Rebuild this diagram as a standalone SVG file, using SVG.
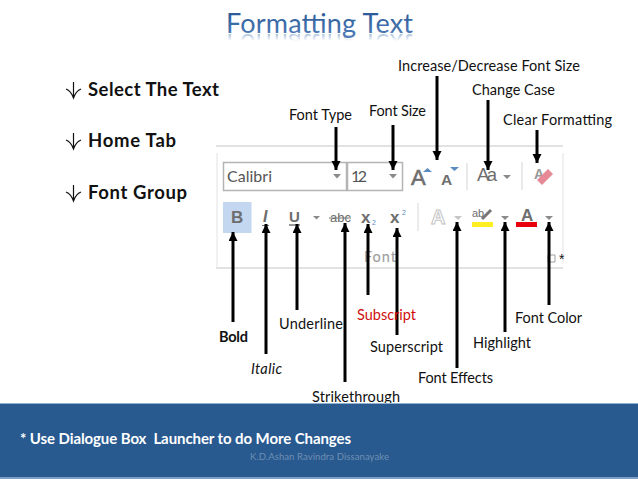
<svg xmlns="http://www.w3.org/2000/svg" xmlns:xlink="http://www.w3.org/1999/xlink" width="638" height="479" viewBox="0 0 638 479">
<style>
text{font-family:Lato,"Open Sans","Liberation Sans",sans-serif}
.lb{font-size:14.500px;fill:#111}
.st{font-size:18.500px;font-weight:700;fill:#111}
.sa{stroke:#111;stroke-width:1.200;fill:none}
.cn{stroke:#000;stroke-width:3;fill:none;marker-end:url(#ah)}
.rb{stroke:#e2e2e2;stroke-width:2;fill:none}
.dd{fill:#8a8a8a}
.ic{font-family:"Liberation Sans",sans-serif;fill:#6e6e6e;font-weight:700}
</style>
<defs>
<marker id="ah" markerUnits="userSpaceOnUse" markerWidth="10" markerHeight="10" refX="9" refY="4.500" orient="auto"><path d="M0,0L9,4.500L0,9Z" fill="#000"/></marker>
<linearGradient id="tg" x1="0" y1="12" x2="0" y2="33" gradientUnits="userSpaceOnUse"><stop offset="0" stop-color="#2b5a96"/><stop offset="1" stop-color="#4a78b4"/></linearGradient>
<linearGradient id="rf" x1="0" y1="32" x2="0" y2="41" gradientUnits="userSpaceOnUse"><stop offset="0" stop-color="#fff" stop-opacity=".8"/><stop offset="1" stop-color="#fff" stop-opacity="0"/></linearGradient>
<mask id="rm" maskUnits="userSpaceOnUse" x="200" y="32" width="240" height="16"><rect x="200" y="32" width="240" height="16" fill="url(#rf)"/></mask>
</defs>
<rect width="638" height="479" fill="#fff"/>
<g id="title">
<text id="tt" x="226" y="32.500" font-size="27" textLength="187" fill="url(#tg)">Formatting Text</text>
<g mask="url(#rm)"><use xlink:href="#tt" href="#tt" transform="matrix(1 0 0 -1 0 66)" opacity=".7"/></g>
</g>
<g id="steps">
<path class="sa" d="M66,89Q71,91 73.500,98Q76,91 81,89M73.500,82V97"/>
<text class="st" x="88" y="96" textLength="131">Select The Text</text>
<path class="sa" d="M66,140Q71,142 73.500,149Q76,142 81,140M73.500,133V148"/>
<text class="st" x="88" y="147" textLength="88">Home Tab</text>
<path class="sa" d="M66,192Q71,194 73.500,201Q76,194 81,192M73.500,185V200"/>
<text class="st" x="88" y="199" textLength="99">Font Group</text>
</g>
<g id="ribbon">
<path class="rb" d="M216,146H563M216,268H563"/>
<path class="rb" d="M217,153V267M563,153V262" style="stroke-width:1"/>
<rect x="223.500" y="162.500" width="123" height="28" fill="#fff" stroke="#b4b4b4" stroke-width="1.500"/>
<rect x="347.500" y="162.500" width="55" height="28" fill="#fff" stroke="#b4b4b4" stroke-width="1.500"/>
<text x="227" y="182" font-size="16" fill="#555" textLength="45">Calibri</text>
<text x="351" y="182" font-size="16" fill="#555" textLength="16">12</text>
<path class="dd" d="M333,174h8l-4,4.500ZM389,174h8l-4,4.500Z"/>
<text class="ic" x="411" y="185" font-size="22" style="font-weight:400;stroke:#6e6e6e;stroke-width:.6">A</text>
<text class="ic" x="441" y="185" font-size="15.500">A</text>
<path d="M423,172l4.500-4 4.500,4ZM450,167h9l-4.500,4Z" fill="#5b8bc0"/>
<text class="ic" x="477" y="181" font-size="18.500" style="font-weight:400" textLength="20">Aa</text>
<path class="dd" d="M503,175h8l-4,4Z"/>
<path d="M467,163V190M522,162V190" stroke="#e4e4e4" stroke-width="1.500"/>
<text class="ic" x="534" y="179" font-size="14" style="fill:#999">A</text>
<path d="M537,180l11-11 5,5-11,11Z" fill="#e58a96"/>
<rect x="223" y="202" width="28.500" height="31" fill="#c3d7f0"/>
<text class="ic" x="231" y="223" font-size="17">B</text>
<text class="ic" x="263" y="222" font-size="16" font-style="italic">I</text>
<path d="M262,225.500h7" stroke="#777"/>
<text class="ic" x="289" y="222" font-size="15">U</text>
<path d="M289,225h11" stroke="#777" stroke-width="1.500"/>
<path class="dd" d="M313,216h7l-3.500,3.500Z"/>
<text class="ic" x="330" y="222" font-size="13" style="font-weight:400" textLength="21">abc</text>
<path d="M329,218h22" stroke="#777"/>
<text class="ic" x="361" y="223" font-size="17">x</text>
<text x="372" y="225" font-size="7" fill="#5b8bc0" style="font-family:'Liberation Sans',sans-serif">2</text>
<text class="ic" x="390" y="223" font-size="17">x</text>
<text x="402" y="215" font-size="7" fill="#5b8bc0" style="font-family:'Liberation Sans',sans-serif">2</text>
<path d="M418,203V231" stroke="#e4e4e4" stroke-width="1.500"/>
<text x="431" y="224" font-size="20" font-weight="700" fill="#fff" stroke="#c4c4c4" style="font-family:'Liberation Sans',sans-serif">A</text>
<path d="M454,216h8l-4,4Z" fill="#c4c4c4"/>
<text class="ic" x="472" y="217" font-size="11" style="font-weight:400">ab</text>
<path d="M482,219l9-9" stroke="#777" stroke-width="3"/>
<rect x="472" y="222" width="21" height="5" fill="#ffee22"/>
<path class="dd" d="M501,216h8l-4,4Z"/>
<text class="ic" x="521" y="221" font-size="17">A</text>
<rect x="516" y="222" width="21" height="5" fill="#e8000d"/>
<path class="dd" d="M545,216h8l-4,4Z"/>
<text x="364" y="262" font-size="14.500" font-weight="500" fill="#a0a0a0" textLength="32">Font</text>
<path d="M548,255h7v7h-7Z" fill="none" stroke="#a0a0a0"/>
<text x="559" y="264" font-size="14" fill="#111" style="font-family:'Liberation Sans',sans-serif">*</text>
</g>
<g id="connectors">
<path class="cn" d="M336,127V170"/>
<path class="cn" d="M393,125V170"/>
<path class="cn" d="M437,76V160"/>
<path class="cn" d="M488,100V170"/>
<path class="cn" d="M537,130V163"/>
<path class="cn" d="M233,322V232"/>
<path class="cn" d="M266,354V224"/>
<path class="cn" d="M297,310V224"/>
<path class="cn" d="M345,382V223"/>
<path class="cn" d="M368,295V224"/>
<path class="cn" d="M397,335V228"/>
<path class="cn" d="M457,368V222"/>
<path class="cn" d="M505,332V222"/>
<path class="cn" d="M549,305V222"/>
</g>
<g id="labels">
<text class="lb" x="398" y="71" textLength="182">Increase/Decrease Font Size</text>
<text class="lb" x="472" y="95" textLength="83">Change Case</text>
<text class="lb" x="369" y="116" textLength="57">Font Size</text>
<text class="lb" x="289" y="120" textLength="63">Font Type</text>
<text class="lb" x="503" y="125" textLength="109">Clear Formatting</text>
<text class="lb" x="219" y="342" font-weight="700" textLength="29">Bold</text>
<text class="lb" x="251" y="374" font-style="italic" textLength="31">Italic</text>
<text class="lb" x="279" y="329" textLength="64">Underline</text>
<text class="lb" x="312" y="402" textLength="88">Strikethrough</text>
<text class="lb" x="357" y="320" style="fill:#d01010" textLength="59">Subscript</text>
<text class="lb" x="370" y="352" textLength="73">Superscript</text>
<text class="lb" x="418" y="383" textLength="75">Font Effects</text>
<text class="lb" x="473" y="348" textLength="58">Highlight</text>
<text class="lb" x="515" y="323" textLength="67">Font Color</text>
</g>
<g id="banner">
<rect x="0" y="403" width="638" height="75" fill="#28598f"/>
<path d="M0,403.500H638" stroke="#8fb0d0"/>
<path d="M0,478H638" stroke="#7fa0c4" stroke-width="2"/>
<text x="20" y="444" font-size="15" font-weight="700" fill="#fff" textLength="331" xml:space="preserve">* Use Dialogue Box  Launcher to do More Changes</text>
<text x="250" y="460" font-size="9.500" fill="#6f8fb3" textLength="139">K.D.Ashan Ravindra Dissanayake</text>
</g>
</svg>
